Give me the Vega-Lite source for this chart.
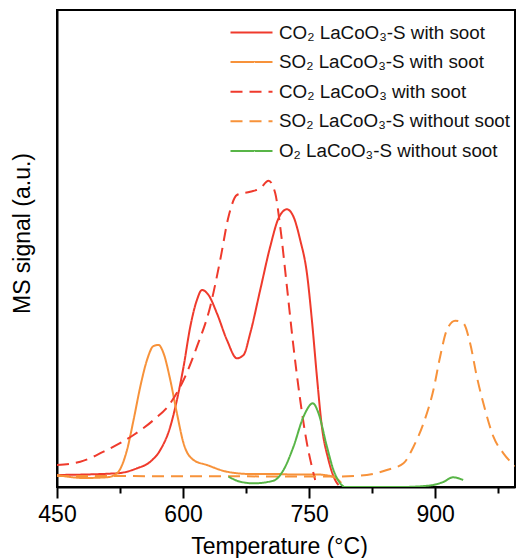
{
  "$schema": "https://vega.github.io/schema/vega-lite/v6.json",
  "width": 458,
  "height": 477,
  "autosize": {"type": "none"},
  "padding": {"left": 57, "top": 10, "right": 5, "bottom": 71},
  "background": "white",
  "config": {
    "view": {"stroke": "black", "strokeWidth": 2},
    "font": "Liberation Sans"
  },
  "data": {
    "values": [
      {"s": "CO₂ LaCoO₃-S with soot", "t": 450, "v": 12},
      {"s": "CO₂ LaCoO₃-S with soot", "t": 521.4, "v": 13.7},
      {"s": "CO₂ LaCoO₃-S with soot", "t": 545.2, "v": 18.7},
      {"s": "CO₂ LaCoO₃-S with soot", "t": 561.0, "v": 25.3},
      {"s": "CO₂ LaCoO₃-S with soot", "t": 572.9, "v": 37},
      {"s": "CO₂ LaCoO₃-S with soot", "t": 584.8, "v": 60.3},
      {"s": "CO₂ LaCoO₃-S with soot", "t": 592.7, "v": 87},
      {"s": "CO₂ LaCoO₃-S with soot", "t": 600.6, "v": 120.3},
      {"s": "CO₂ LaCoO₃-S with soot", "t": 608.6, "v": 160.3},
      {"s": "CO₂ LaCoO₃-S with soot", "t": 616.5, "v": 187},
      {"s": "CO₂ LaCoO₃-S with soot", "t": 622.5, "v": 197},
      {"s": "CO₂ LaCoO₃-S with soot", "t": 630.3, "v": 192},
      {"s": "CO₂ LaCoO₃-S with soot", "t": 640.3, "v": 173.7},
      {"s": "CO₂ LaCoO₃-S with soot", "t": 652.2, "v": 147},
      {"s": "CO₂ LaCoO₃-S with soot", "t": 664.1, "v": 128.7},
      {"s": "CO₂ LaCoO₃-S with soot", "t": 672.0, "v": 132},
      {"s": "CO₂ LaCoO₃-S with soot", "t": 679.9, "v": 153.7},
      {"s": "CO₂ LaCoO₃-S with soot", "t": 691.8, "v": 197},
      {"s": "CO₂ LaCoO₃-S with soot", "t": 703.7, "v": 240.3},
      {"s": "CO₂ LaCoO₃-S with soot", "t": 713.6, "v": 268.7},
      {"s": "CO₂ LaCoO₃-S with soot", "t": 723.6, "v": 277.7},
      {"s": "CO₂ LaCoO₃-S with soot", "t": 731.4, "v": 270.3},
      {"s": "CO₂ LaCoO₃-S with soot", "t": 739.4, "v": 247},
      {"s": "CO₂ LaCoO₃-S with soot", "t": 747.4, "v": 213.7},
      {"s": "CO₂ LaCoO₃-S with soot", "t": 753.3, "v": 167},
      {"s": "CO₂ LaCoO₃-S with soot", "t": 759.3, "v": 110.3},
      {"s": "CO₂ LaCoO₃-S with soot", "t": 765.2, "v": 60.3},
      {"s": "CO₂ LaCoO₃-S with soot", "t": 773.1, "v": 27},
      {"s": "CO₂ LaCoO₃-S with soot", "t": 781.0, "v": 7},
      {"s": "CO₂ LaCoO₃-S with soot", "t": 785.0, "v": 2},

      {"s": "SO₂ LaCoO₃-S with soot", "t": 450, "v": 12},
      {"s": "SO₂ LaCoO₃-S with soot", "t": 465.8, "v": 10},
      {"s": "SO₂ LaCoO₃-S with soot", "t": 481.3, "v": 9},
      {"s": "SO₂ LaCoO₃-S with soot", "t": 509.5, "v": 9.7},
      {"s": "SO₂ LaCoO₃-S with soot", "t": 521.4, "v": 13.7},
      {"s": "SO₂ LaCoO₃-S with soot", "t": 533.3, "v": 37},
      {"s": "SO₂ LaCoO₃-S with soot", "t": 541.1, "v": 67},
      {"s": "SO₂ LaCoO₃-S with soot", "t": 549.1, "v": 100.3},
      {"s": "SO₂ LaCoO₃-S with soot", "t": 557.1, "v": 127},
      {"s": "SO₂ LaCoO₃-S with soot", "t": 564.9, "v": 141},
      {"s": "SO₂ LaCoO₃-S with soot", "t": 570.9, "v": 142},
      {"s": "SO₂ LaCoO₃-S with soot", "t": 576.8, "v": 133.7},
      {"s": "SO₂ LaCoO₃-S with soot", "t": 584.8, "v": 107},
      {"s": "SO₂ LaCoO₃-S with soot", "t": 592.7, "v": 73.7},
      {"s": "SO₂ LaCoO₃-S with soot", "t": 600.6, "v": 43.7},
      {"s": "SO₂ LaCoO₃-S with soot", "t": 612.5, "v": 27},
      {"s": "SO₂ LaCoO₃-S with soot", "t": 628.4, "v": 22},
      {"s": "SO₂ LaCoO₃-S with soot", "t": 652.2, "v": 15.3},
      {"s": "SO₂ LaCoO₃-S with soot", "t": 679.9, "v": 13},
      {"s": "SO₂ LaCoO₃-S with soot", "t": 707.6, "v": 13},
      {"s": "SO₂ LaCoO₃-S with soot", "t": 731.4, "v": 12.5},
      {"s": "SO₂ LaCoO₃-S with soot", "t": 759.3, "v": 12.5},
      {"s": "SO₂ LaCoO₃-S with soot", "t": 775.1, "v": 11},
      {"s": "SO₂ LaCoO₃-S with soot", "t": 783.4, "v": 8},
      {"s": "SO₂ LaCoO₃-S with soot", "t": 788.2, "v": 4},

      {"s": "CO₂ LaCoO₃ with soot", "t": 450, "v": 22},
      {"s": "CO₂ LaCoO₃ with soot", "t": 477.7, "v": 25.3},
      {"s": "CO₂ LaCoO₃ with soot", "t": 509.5, "v": 37},
      {"s": "CO₂ LaCoO₃ with soot", "t": 541.1, "v": 52},
      {"s": "CO₂ LaCoO₃ with soot", "t": 564.9, "v": 67},
      {"s": "CO₂ LaCoO₃ with soot", "t": 584.8, "v": 83.7},
      {"s": "CO₂ LaCoO₃ with soot", "t": 600.6, "v": 107},
      {"s": "CO₂ LaCoO₃ with soot", "t": 616.5, "v": 140.3},
      {"s": "CO₂ LaCoO₃ with soot", "t": 632.3, "v": 180.3},
      {"s": "CO₂ LaCoO₃ with soot", "t": 644.2, "v": 227},
      {"s": "CO₂ LaCoO₃ with soot", "t": 654.1, "v": 270.3},
      {"s": "CO₂ LaCoO₃ with soot", "t": 664.1, "v": 292},
      {"s": "CO₂ LaCoO₃ with soot", "t": 679.9, "v": 295.3},
      {"s": "CO₂ LaCoO₃ with soot", "t": 691.8, "v": 298.7},
      {"s": "CO₂ LaCoO₃ with soot", "t": 701.7, "v": 306.3},
      {"s": "CO₂ LaCoO₃ with soot", "t": 709.7, "v": 293.7},
      {"s": "CO₂ LaCoO₃ with soot", "t": 715.6, "v": 260.3},
      {"s": "CO₂ LaCoO₃ with soot", "t": 723.6, "v": 200.3},
      {"s": "CO₂ LaCoO₃ with soot", "t": 731.4, "v": 140.3},
      {"s": "CO₂ LaCoO₃ with soot", "t": 739.4, "v": 87},
      {"s": "CO₂ LaCoO₃ with soot", "t": 747.4, "v": 43.7},
      {"s": "CO₂ LaCoO₃ with soot", "t": 753.3, "v": 20.3},
      {"s": "CO₂ LaCoO₃ with soot", "t": 757.2, "v": 7},

      {"s": "SO₂ LaCoO₃-S without soot", "t": 450, "v": 11},
      {"s": "SO₂ LaCoO₃-S without soot", "t": 600, "v": 10.8},
      {"s": "SO₂ LaCoO₃-S without soot", "t": 700, "v": 10.6},
      {"s": "SO₂ LaCoO₃-S without soot", "t": 787.0, "v": 10.5},
      {"s": "SO₂ LaCoO₃-S without soot", "t": 818.7, "v": 12},
      {"s": "SO₂ LaCoO₃-S without soot", "t": 842.5, "v": 17},
      {"s": "SO₂ LaCoO₃-S without soot", "t": 862.3, "v": 23.7},
      {"s": "SO₂ LaCoO₃-S without soot", "t": 874.2, "v": 40.3},
      {"s": "SO₂ LaCoO₃-S without soot", "t": 886.1, "v": 63.7},
      {"s": "SO₂ LaCoO₃-S without soot", "t": 897.9, "v": 97},
      {"s": "SO₂ LaCoO₃-S without soot", "t": 905.9, "v": 130.3},
      {"s": "SO₂ LaCoO₃-S without soot", "t": 913.9, "v": 157},
      {"s": "SO₂ LaCoO₃-S without soot", "t": 923.8, "v": 166.3},
      {"s": "SO₂ LaCoO₃-S without soot", "t": 933.6, "v": 163.7},
      {"s": "SO₂ LaCoO₃-S without soot", "t": 941.6, "v": 143.7},
      {"s": "SO₂ LaCoO₃-S without soot", "t": 949.6, "v": 110.3},
      {"s": "SO₂ LaCoO₃-S without soot", "t": 959.5, "v": 77},
      {"s": "SO₂ LaCoO₃-S without soot", "t": 969.3, "v": 50.3},
      {"s": "SO₂ LaCoO₃-S without soot", "t": 981.2, "v": 33.7},
      {"s": "SO₂ LaCoO₃-S without soot", "t": 995.2, "v": 21},

      {"s": "O₂ LaCoO₃-S without soot", "t": 654.1, "v": 10.3},
      {"s": "O₂ LaCoO₃-S without soot", "t": 668.0, "v": 5.3},
      {"s": "O₂ LaCoO₃-S without soot", "t": 683.8, "v": 3.7},
      {"s": "O₂ LaCoO₃-S without soot", "t": 707.6, "v": 6.3},
      {"s": "O₂ LaCoO₃-S without soot", "t": 719.5, "v": 17},
      {"s": "O₂ LaCoO₃-S without soot", "t": 731.4, "v": 40.3},
      {"s": "O₂ LaCoO₃-S without soot", "t": 743.3, "v": 70.3},
      {"s": "O₂ LaCoO₃-S without soot", "t": 754.5, "v": 83.7},
      {"s": "O₂ LaCoO₃-S without soot", "t": 761.2, "v": 73.7},
      {"s": "O₂ LaCoO₃-S without soot", "t": 771.2, "v": 40.3},
      {"s": "O₂ LaCoO₃-S without soot", "t": 779.0, "v": 17},
      {"s": "O₂ LaCoO₃-S without soot", "t": 787.0, "v": 3.7},
      {"s": "O₂ LaCoO₃-S without soot", "t": 792.9, "v": 0},
      {"s": "O₂ LaCoO₃-S without soot", "t": 858.3, "v": 0},
      {"s": "O₂ LaCoO₃-S without soot", "t": 894.0, "v": 1.5},
      {"s": "O₂ LaCoO₃-S without soot", "t": 909.5, "v": 5},
      {"s": "O₂ LaCoO₃-S without soot", "t": 921.4, "v": 9.7},
      {"s": "O₂ LaCoO₃-S without soot", "t": 933.3, "v": 7}
    ]
  },
  "mark": {"type": "line", "strokeWidth": 2, "clip": true, "interpolate": "monotone"},
  "encoding": {
    "x": {
      "field": "t",
      "type": "quantitative",
      "scale": {"domain": [450, 995], "nice": false, "zero": false},
      "axis": {
        "title": "Temperature (°C)",
        "values": [450, 525, 600, 675, 750, 825, 900, 975],
        "labelExpr": "datum.value % 150 === 0 ? datum.label : ''",
        "labelFlush": false,
        "grid": false,
        "domainColor": "black",
        "domainWidth": 2,
        "tickColor": "black",
        "tickWidth": 2,
        "tickSize": {"condition": {"test": "datum.value % 150 === 0", "value": 11}, "value": 6},
        "labelFontSize": 23,
        "labelColor": "black",
        "labelPadding": 5,
        "labelFont": "Liberation Sans",
        "titleFont": "Liberation Sans",
        "titleFontSize": 23,
        "titleFontWeight": "normal",
        "titleColor": "black",
        "titleX": 222,
        "titleY": 66,
        "titleBaseline": "alphabetic"
      }
    },
    "y": {
      "field": "v",
      "type": "quantitative",
      "scale": {"domain": [0, 477], "nice": false},
      "axis": {
        "title": "MS signal (a.u.)",
        "ticks": false,
        "labels": false,
        "grid": false,
        "domainColor": "black",
        "domainWidth": 2,
        "titleFont": "Liberation Sans",
        "titleFontSize": 23,
        "titleFontWeight": "normal",
        "titleColor": "black",
        "titleAngle": -90,
        "titleBaseline": "middle",
        "titleAlign": "center",
        "titleX": -35,
        "titleY": 223
      }
    },
    "color": {
      "field": "s",
      "type": "nominal",
      "scale": {
        "domain": ["CO₂ LaCoO₃-S with soot", "SO₂ LaCoO₃-S with soot", "CO₂ LaCoO₃ with soot", "SO₂ LaCoO₃-S without soot", "O₂ LaCoO₃-S without soot"],
        "range": ["#EF3A2C", "#F7923A", "#EF3A2C", "#F7923A", "#58B547"]
      },
      "legend": {
        "title": null,
        "orient": "none",
        "legendX": 183,
        "legendY": 11,
        "padding": 0,
        "symbolType": "M-2,0H2",
        "symbolSize": 441,
        "symbolStrokeWidth": 2,
        "labelOffset": 16,
        "rowPadding": 7.6,
        "labelLimit": 400,
        "labelFont": "Liberation Sans",
        "labelFontSize": 18.8,
        "labelColor": "#111"
      }
    },
    "strokeDash": {
      "field": "s",
      "type": "nominal",
      "scale": {
        "domain": ["CO₂ LaCoO₃-S with soot", "SO₂ LaCoO₃-S with soot", "CO₂ LaCoO₃ with soot", "SO₂ LaCoO₃-S without soot", "O₂ LaCoO₃-S without soot"],
        "range": [[1, 0], [1, 0], [12, 7], [12, 7], [1, 0]]
      },
      "legend": {
        "title": null,
        "orient": "none",
        "legendX": 183,
        "legendY": 11,
        "padding": 0,
        "symbolType": "M-2,0H2",
        "symbolSize": 441,
        "symbolStrokeWidth": 2,
        "labelOffset": 16,
        "rowPadding": 7.6,
        "labelLimit": 400,
        "labelFont": "Liberation Sans",
        "labelFontSize": 18.8,
        "labelColor": "#111"
      }
    }
  }
}
